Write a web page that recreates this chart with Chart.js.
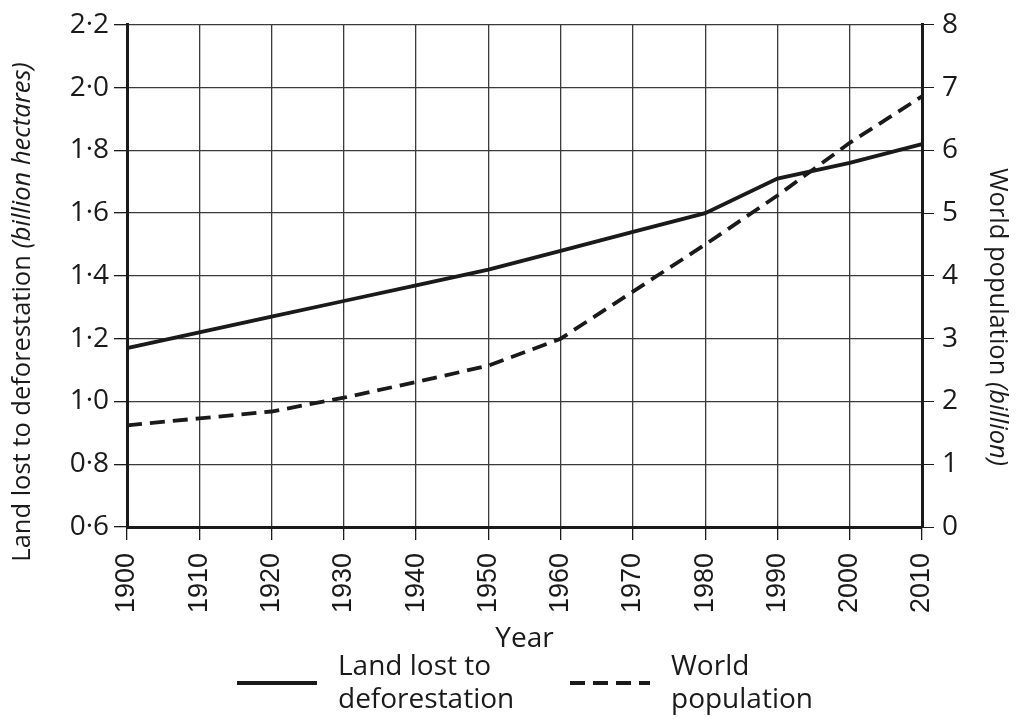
<!DOCTYPE html>
<html>
<head>
<meta charset="utf-8">
<script src="https://cdn.jsdelivr.net/npm/chart.js@4.4.1/dist/chart.umd.min.js"></script>
<style>
  body { margin: 0; background: #fff; }
  #wrap { width: 1016px; height: 724px; position: relative; }
</style>
</head>
<body>
<div id="wrap"><canvas id="chart"></canvas></div>
<script>
// ---------------------- DATOS ----------------------
const years = ["1900", "1910", "1920", "1930", "1940", "1950", "1960", "1970", "1980", "1990", "2000", "2010"];
const landLost = [1.17, 1.22, 1.27, 1.32, 1.37, 1.42, 1.48, 1.54, 1.60, 1.71, 1.76, 1.82];
const worldPop = [1.62, 1.73, 1.84, 2.06, 2.31, 2.57, 3.00, 3.75, 4.50, 5.28, 6.12, 6.86];

const leftTicks = [0.6, 0.8, 1.0, 1.2, 1.4, 1.6, 1.8, 2.0, 2.2];
const rightTicks = [0, 1, 2, 3, 4, 5, 6, 7, 8];

const legendNames = [["Land lost to", "deforestation"], ["World", "population"]];

const ink = "#1a1a1a";
const gridColor = "#3a3a3a";
const mainFont = "'Open Sans', 'DejaVu Sans', sans-serif";
const xTickFont = "'Liberation Sans Narrow', 'Liberation Sans', Arial, sans-serif";

// ---- textos con partes en cursiva ----
function drawRich(ctx, parts, cx, cy, angle) {
  ctx.save();
  ctx.translate(cx, cy);
  ctx.rotate(angle);
  ctx.textAlign = "left";
  ctx.textBaseline = "middle";
  const widths = parts.map((p) => {
    ctx.font = p.font;
    return ctx.measureText(p.text).width;
  });
  let x = -widths.reduce((a, b) => a + b, 0) / 2;
  parts.forEach((p, i) => {
    ctx.font = p.font;
    ctx.fillText(p.text, x, 0);
    x += widths[i];
  });
  ctx.restore();
}

const extraText = {
  id: "extraText",
  afterDraw(chart) {
    const ctx = chart.ctx;
    const a = chart.chartArea;
    ctx.save();
    ctx.fillStyle = ink;
    ctx.strokeStyle = ink;

    // titulos de ejes
    drawRich(ctx, [
      { text: "Land lost to deforestation ", font: `25.5px ${mainFont}` },
      { text: "(billion hectares)", font: `italic 25.5px ${mainFont}` },
    ], a.left - 104, 312, -Math.PI / 2);

    drawRich(ctx, [
      { text: "World population ", font: `25.5px ${mainFont}` },
      { text: "(billion)", font: `italic 25.5px ${mainFont}` },
    ], a.right + 75, 317, Math.PI / 2);

    // Year
    ctx.font = `28px ${mainFont}`;
    ctx.textAlign = "center";
    ctx.textBaseline = "alphabetic";
    ctx.fillText("Year", (a.left + a.right) / 2, a.bottom + 120);

    // leyenda
    const items = [
      { x0: a.left + 110, dash: [], names: legendNames[0] },
      { x0: a.left + 443, dash: [15, 8], names: legendNames[1] },
    ];
    items.forEach((it) => {
      ctx.beginPath();
      ctx.lineWidth = 4;
      ctx.setLineDash(it.dash);
      ctx.moveTo(it.x0, a.bottom + 156);
      ctx.lineTo(it.x0 + 80, a.bottom + 156);
      ctx.stroke();
      ctx.setLineDash([]);
      ctx.textAlign = "left";
      ctx.fillText(it.names[0], it.x0 + 101, a.bottom + 148);
      ctx.fillText(it.names[1], it.x0 + 101, a.bottom + 181);
    });
    ctx.restore();
  },
};

// ---------------------- GRAFICO ----------------------
new Chart(document.getElementById("chart"), {
  type: "line",
  data: {
    labels: years,
    datasets: [
      {
        label: "Land lost to deforestation",
        data: landLost,
        yAxisID: "y",
        borderColor: ink,
        borderWidth: 3.8,
        pointRadius: 0,
        tension: 0,
      },
      {
        label: "World population",
        data: worldPop,
        yAxisID: "y2",
        borderColor: ink,
        borderWidth: 3.8,
        borderDash: [15, 8],
        pointRadius: 0,
        tension: 0,
      },
    ],
  },
  options: {
    responsive: true,
    maintainAspectRatio: false,
    animation: false,
    layout: { padding: { left: 50, right: 45, top: 19, bottom: 0 } },
    plugins: { legend: { display: false }, tooltip: { enabled: false } },
    scales: {
      x: {
        type: "category",
        offset: false,
        grid: { color: gridColor, lineWidth: 1.3, tickLength: 13, tickColor: ink },
        border: { display: true, color: ink, width: 3 },
        ticks: {
          color: ink,
          font: { family: xTickFont, size: 27 },
          minRotation: 90,
          maxRotation: 90,
          padding: 13,
          autoSkip: false,
        },
        afterFit: (s) => { s.height = 197; },
      },
      y: {
        position: "left",
        min: leftTicks[0],
        max: leftTicks[leftTicks.length - 1],
        afterBuildTicks: (s) => { s.ticks = leftTicks.map((v) => ({ value: v })); },
        grid: { color: gridColor, lineWidth: 1.3, tickLength: 13, tickColor: ink },
        border: { display: true, color: ink, width: 3 },
        ticks: {
          color: ink,
          font: { family: mainFont, size: 28 },
          padding: 5,
          callback: (v) => Number(v).toFixed(1).replace(".", "\u00B7"),
        },
        afterFit: (s) => { s.width = 77; },
      },
      y2: {
        position: "right",
        min: rightTicks[0],
        max: rightTicks[rightTicks.length - 1],
        afterBuildTicks: (s) => { s.ticks = rightTicks.map((v) => ({ value: v })); },
        grid: { drawOnChartArea: false, tickLength: 12, tickColor: ink },
        border: { display: true, color: ink, width: 3 },
        ticks: {
          color: ink,
          font: { family: mainFont, size: 28 },
          padding: 8,
          callback: (v) => String(v),
        },
        afterFit: (s) => { s.width = 49; },
      },
    },
  },
  plugins: [extraText],
});
</script>
</body>
</html>
